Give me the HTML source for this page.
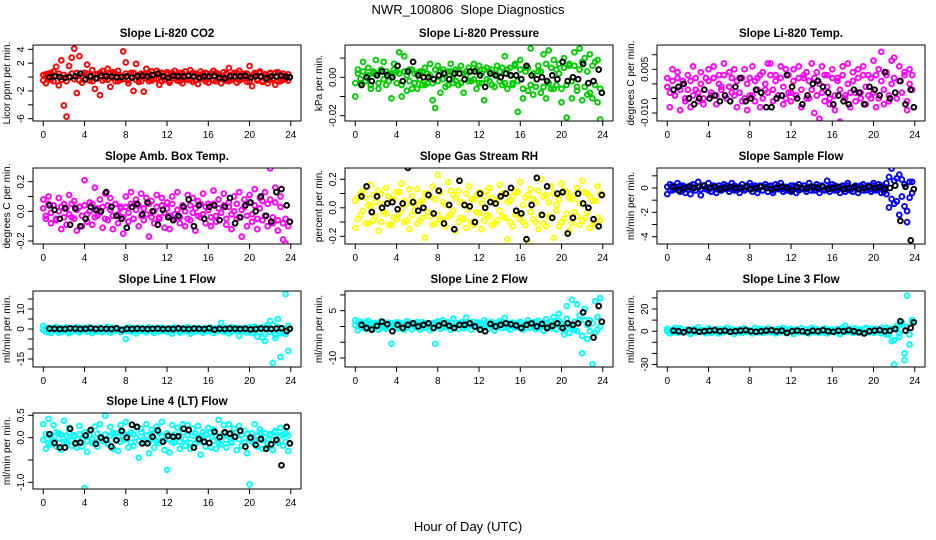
<!DOCTYPE html>
<html><head><meta charset="utf-8"><style>
html,body{margin:0;padding:0;background:#fff;}
svg{display:block;font-family:"Liberation Sans",sans-serif;}
</style></head><body>
<svg id="chart" width="936" height="540" viewBox="0 0 936 540" xmlns="http://www.w3.org/2000/svg">
<rect width="936" height="540" fill="#fff"/>
<text x="468" y="14" text-anchor="middle" font-size="13">NWR_100806&#160; Slope Diagnostics</text>
<text x="468" y="531" text-anchor="middle" font-size="13">Hour of Day (UTC)</text>
</svg>
<script>
const xTicks=[0,4,8,12,16,20,24];
const hoursC=[0,0.25,0.5,0.75,1,1.25,1.5,1.75,2,2.25,2.5,2.75,3,3.25,3.5,3.75,4,4.25,4.5,4.75,5,5.25,5.5,5.75,6,6.25,6.5,6.75,7,7.25,7.5,7.75,8,8.25,8.5,8.75,9,9.25,9.5,9.75,10,10.25,10.5,10.75,11,11.25,11.5,11.75,12,12.25,12.5,12.75,13,13.25,13.5,13.75,14,14.25,14.5,14.75,15,15.25,15.5,15.75,16,16.25,16.5,16.75,17,17.25,17.5,17.75,18,18.25,18.5,18.75,19,19.25,19.5,19.75,20,20.25,20.5,20.75,21,21.25,21.5,21.75,22,22.25,22.5,22.75,23,23.25,23.5,23.75];
const hoursK=[0.6,1.1,1.6,2.1,2.6,3.1,3.6,4.1,4.6,5.1,5.6,6.1,6.6,7.1,7.6,8.1,8.6,9.1,9.6,10.1,10.6,11.1,11.6,12.1,12.6,13.1,13.6,14.1,14.6,15.1,15.6,16.1,16.6,17.1,17.6,18.1,18.6,19.1,19.6,20.1,20.6,21.1,21.6,22.1,22.6,23.1,23.6,23.9];

const co2A=[0.3,-0.9,0.5,-0.4,0.8,1.5,-1.2,2.4,-4.1,-5.7,1.6,2.8,4.1,-2.3,3.0,-0.8,0.6,1.8,-0.5,1.0,-1.7,0.4,-2.6,0.9,-0.3,1.2,-1.4,0.7,-0.6,0.9,-0.4,3.7,2.1,-0.9,0.6,-2.0,1.9,-0.7,0.5,-2.1,1.2,-0.6,0.8,-0.3,0.9,-1.1,0.6,-0.4,0.7,-0.8,0.4,0.9,-0.5,0.6,-0.9,0.8,-0.4,1.0,-0.7,0.5,-1.0,0.8,-0.3,0.6,-0.8,0.5,0.9,-0.6,0.4,-0.9,0.7,-0.5,1.3,-0.4,0.6,-0.8,0.9,-0.3,0.5,-0.7,1.6,-1.3,0.6,-0.5,0.8,-0.7,0.4,-0.9,0.6,-0.4,-1.1,0.7,-0.6,0.5,-0.3,0.4];
const co2B=[-0.5,0.4,-0.2,0.6,-0.6,0.2,0.5,-0.4,0.3,-0.6,0.1,0.5,-0.3,0.6,-0.5,0.2,-0.4,0.5,0.1,-0.6,0.4,-0.2,0.6,-0.5,0.3,-0.4,0.6,-0.1,0.5,-0.6,0.2,-0.3,0.5,-0.5,0.1,0.6,-0.4,0.3,-0.6,0.4,-0.2,0.5,-0.5,0.2,-0.3,0.6,-0.6,0.1,0.4,-0.5,0.6,-0.2,0.3,-0.6,0.5,-0.1,0.2,-0.4,0.6,-0.5,0.3,-0.2,0.5,-0.6,0.1,0.4,-0.5,0.6,-0.3,0.2,-0.4,0.5,-0.6,0.3,-0.1,0.6,-0.5,0.4,-0.2,0.5,-0.6,0.2,0.4,-0.3,0.6,-0.5,0.1,-0.4,0.5,-0.2,0.6,-0.6,0.3,-0.4,0.2,-0.5];
const co2K=[0,0.1,0,-0.1,0,0.1,0.5,-0.3,0.1,-0.2,0.2,0.1,0.1,0,0,0.1,-0.1,0.1,0.2,0.1,0.3,0.5,0.1,-0.1,0.2,0.1,0.1,0.2,0.1,-0.1,0.1,0.1,0.2,-0.1,-0.2,0.1,0.1,0.1,0.2,-0.1,0.1,0.1,-0.2,0.1,0.1,0.2,0,0];

const presA=[-0.010,0.004,-0.003,0.008,-0.002,0.005,-0.006,0.002,0.009,-0.006,0.003,0.008,-0.004,0.002,-0.011,0.007,0.003,0.013,-0.010,0.011,-0.007,0.004,-0.006,0.002,-0.006,0.003,-0.004,0.005,-0.003,0.007,-0.012,-0.016,0.006,-0.008,0.004,-0.005,0.003,0.007,-0.003,0.004,-0.004,0.006,-0.008,0.003,0.005,-0.002,0.007,-0.006,0.006,-0.003,-0.012,0.005,-0.002,0.004,-0.005,0.006,0.003,-0.004,0.011,-0.006,0.005,-0.003,0.007,-0.018,0.009,-0.011,0.005,-0.007,0.015,-0.009,0.020,0.003,-0.008,0.012,-0.011,0.014,-0.006,0.009,-0.004,0.007,-0.013,0.010,-0.021,0.006,-0.011,0.013,-0.005,0.015,-0.012,0.010,-0.009,0.012,-0.011,0.008,-0.013,-0.022];
const presB=[-0.003,0.002,-0.001,0.003,-0.002,0.001,-0.004,0.003,0.002,-0.003,0.004,-0.001,0.003,-0.002,0.001,0.004,-0.003,0.002,-0.004,0.003,0.001,-0.002,0.004,-0.003,0.002,-0.001,0.003,-0.004,0.002,0.001,-0.003,0.004,-0.002,0.003,-0.001,0.002,-0.004,0.003,0.001,-0.002,0.004,-0.003,0.002,0.001,-0.002,0.003,-0.001,0.004,-0.003,0.002,0.004,-0.001,0.003,-0.004,0.002,0.001,-0.002,0.005,-0.003,0.004,0.001,-0.004,0.006,-0.002,0.004,-0.006,0.003,0.005,-0.004,0.002,-0.005,0.006,0.003,-0.005,0.007,-0.003,0.005,-0.006,0.004,0.002,-0.006,0.005,-0.004,0.007,-0.002,0.006,-0.007,0.004,0.008,-0.005,0.003,-0.008,0.006,-0.004,0.009,-0.006];
const presK=[-0.004,0.0,-0.002,0.001,0.003,0.001,0.000,0.006,-0.002,0.003,0.008,0.001,0.000,0.0,-0.001,0.001,0.002,-0.001,0.002,0.002,-0.001,0.003,0.003,0.001,-0.005,0.002,0.001,0.000,0.002,0.001,0.001,-0.001,0.006,0.001,-0.001,0.000,-0.002,0.001,-0.001,0.008,-0.002,0.000,-0.001,0.007,-0.003,-0.002,0.004,-0.008];

const ltempA=[0.002,-0.008,0.005,-0.004,0.004,-0.009,0.001,-0.006,0.003,-0.008,0.006,-0.002,-0.006,0.004,-0.007,0.002,0.005,-0.004,0.006,-0.007,0.003,-0.001,0.007,-0.005,0.004,-0.003,0.005,-0.008,0.002,-0.006,0.005,-0.009,-0.004,0.006,-0.006,0.002,-0.008,0.004,-0.002,0.007,0.007,-0.006,0.003,-0.004,0.006,-0.007,0.005,-0.003,-0.006,0.005,-0.004,0.006,-0.008,0.002,0.004,-0.005,0.007,-0.010,0.004,-0.012,0.006,-0.006,0.003,-0.007,0.005,-0.009,0.002,-0.013,0.006,-0.004,0.007,-0.008,0.004,-0.006,0.005,-0.003,0.006,-0.007,0.003,-0.005,0.008,-0.008,0.005,0.011,-0.007,0.004,-0.006,0.008,0.009,-0.015,0.006,-0.014,0.004,-0.009,0.005,0.003];
const ltempB=[-0.001,-0.003,0.001,-0.004,0.002,-0.002,0.000,-0.005,-0.002,0.001,-0.004,0.002,-0.003,0.000,-0.005,0.002,0.001,-0.003,0.002,-0.004,0.000,-0.002,0.003,-0.005,-0.001,0.002,-0.004,0.001,-0.003,0.002,-0.005,0.000,0.002,-0.004,0.001,-0.002,0.003,-0.005,0.000,-0.003,0.003,-0.002,0.001,-0.004,0.002,-0.001,-0.005,0.003,-0.003,0.001,-0.004,0.002,-0.002,0.003,-0.005,0.001,-0.002,0.002,-0.004,0.000,-0.003,0.003,-0.001,-0.005,0.002,-0.004,0.001,-0.002,0.003,-0.005,0.000,-0.003,0.001,-0.003,0.002,-0.005,0.003,-0.001,-0.004,0.002,-0.003,0.003,-0.005,0.001,-0.002,0.003,-0.004,0.000,0.002,-0.005,0.001,-0.003,0.003,-0.006,0.000,-0.002];
const ltempK=[-0.002,-0.001,0.000,-0.005,-0.007,-0.005,-0.002,-0.005,-0.004,-0.006,-0.004,-0.006,-0.001,0.002,-0.006,-0.005,-0.002,-0.003,-0.008,-0.008,-0.005,-0.004,0.003,-0.001,-0.005,-0.007,-0.004,0.000,0.001,-0.001,-0.003,-0.007,-0.004,-0.006,-0.007,-0.002,-0.003,-0.007,-0.001,-0.002,-0.004,0.004,-0.005,-0.003,0.001,-0.007,-0.002,-0.008];

const boxA=[0.08,-0.05,0.10,-0.08,0.04,-0.06,0.09,-0.12,0.05,-0.09,0.11,-0.04,0.07,-0.13,0.03,-0.10,0.21,-0.07,0.06,-0.09,0.16,-0.03,0.08,-0.11,0.12,-0.06,0.09,-0.12,0.05,-0.08,0.03,-0.15,0.10,-0.07,0.13,-0.05,0.08,-0.10,0.12,-0.06,0.09,-0.17,0.07,-0.08,0.11,-0.04,0.09,-0.11,0.06,-0.12,0.10,-0.05,0.13,-0.08,0.04,-0.10,0.11,-0.06,0.09,-0.13,0.07,-0.04,0.12,-0.08,0.05,-0.10,0.14,-0.07,0.08,-0.25,0.12,-0.09,0.06,-0.12,0.10,-0.05,0.13,-0.17,0.08,-0.10,0.11,-0.07,0.15,-0.12,0.09,-0.06,0.13,-0.10,0.29,-0.08,0.16,-0.13,0.10,-0.19,-0.22,-0.26];
const boxB=[0.02,-0.03,0.05,-0.01,0.04,-0.05,0.00,0.03,-0.04,0.02,-0.02,0.05,-0.05,0.01,0.03,-0.03,0.04,-0.02,0.00,0.05,-0.04,0.02,-0.01,0.03,-0.05,0.04,0.01,-0.03,0.05,-0.02,0.02,-0.04,0.03,-0.01,0.05,-0.05,0.01,0.04,-0.03,0.02,-0.02,0.05,-0.04,0.00,0.03,-0.05,0.04,-0.01,0.02,-0.03,0.05,-0.02,0.01,-0.04,0.03,0.00,-0.05,0.04,-0.01,0.02,-0.03,0.05,-0.02,0.03,0.01,-0.04,0.05,-0.03,0.02,-0.01,0.04,-0.05,0.03,-0.02,0.00,0.05,-0.04,0.01,0.03,-0.03,0.06,-0.02,0.04,-0.05,0.02,0.07,-0.03,0.05,0.08,-0.04,0.06,-0.06,0.03,-0.08,-0.05,-0.10];
const boxK=[0.04,0.01,-0.05,0.02,-0.09,0.02,-0.10,-0.05,0.03,0.01,0.00,0.13,0.03,-0.03,-0.05,-0.11,0.03,0.05,-0.02,0.06,0.00,-0.09,0.01,-0.04,-0.06,-0.03,0.03,0.08,-0.10,0.04,-0.05,0.03,0.04,-0.06,0.03,0.09,-0.08,-0.04,0.04,0.06,0.00,0.10,-0.03,-0.07,0.13,0.15,0.04,-0.07];

const rhA=[-0.14,0.07,-0.05,0.12,-0.11,0.02,0.16,-0.09,0.04,-0.16,0.10,-0.03,0.14,-0.12,0.06,-0.07,0.11,-0.04,0.17,-0.10,0.03,-0.15,0.08,-0.02,0.13,-0.09,0.05,-0.21,0.10,-0.06,0.15,-0.11,0.23,-0.08,0.04,-0.13,0.18,-0.05,0.09,-0.16,0.12,-0.07,0.02,-0.14,0.15,-0.10,0.06,-0.03,0.11,-0.15,0.08,-0.05,0.14,-0.12,0.03,-0.09,0.16,-0.06,0.10,-0.22,0.05,-0.13,0.12,-0.04,0.18,-0.10,0.07,-0.24,0.13,-0.08,0.04,-0.15,0.20,-0.11,0.09,-0.06,0.15,-0.21,0.02,-0.13,0.17,-0.08,0.11,-0.16,0.06,-0.03,0.14,-0.12,0.19,-0.07,0.10,-0.14,0.05,-0.11,0.15,-0.09];
const rhB=[0.05,-0.08,0.10,-0.02,0.07,-0.11,0.01,0.09,-0.06,0.12,-0.10,0.03,-0.04,0.08,-0.12,0.06,-0.08,0.11,-0.01,0.05,-0.09,0.13,-0.05,0.02,-0.11,0.04,-0.07,0.10,-0.03,0.08,-0.12,0.06,-0.05,0.11,-0.09,0.02,-0.06,0.12,-0.02,0.07,-0.10,0.04,-0.08,0.10,-0.01,0.06,-0.12,0.09,-0.04,0.03,-0.09,0.12,-0.06,0.07,-0.11,0.05,-0.02,0.10,-0.07,0.04,-0.10,0.08,-0.05,0.11,-0.08,0.02,-0.12,0.09,-0.03,0.06,-0.10,0.12,-0.05,0.08,-0.13,0.04,-0.07,0.10,-0.02,0.06,-0.10,0.12,-0.04,0.07,-0.11,0.09,-0.06,0.03,-0.09,0.11,-0.03,0.08,-0.12,0.05,-0.07,0.10];
const rhK=[0.08,0.15,-0.03,0.08,0.00,0.03,0.04,-0.01,0.03,0.28,0.04,-0.02,0.00,0.09,-0.04,0.12,-0.11,0.02,-0.15,0.19,0.02,0.01,-0.10,0.10,0.00,0.04,0.03,0.08,0.10,0.14,-0.02,-0.04,-0.22,0.02,0.21,-0.05,0.15,-0.07,0.10,0.11,-0.18,-0.07,0.10,0.03,0.00,-0.08,-0.13,0.09];

const sampA=[-0.5,0.3,-0.2,0.1,0.4,-0.3,0.2,-0.4,0.1,-0.5,0.3,-0.2,0.5,-0.6,0.2,-0.1,0.4,-0.3,0.1,-0.4,0.2,-0.2,0.3,-0.1,-0.3,0.4,-0.2,0.1,-0.4,0.3,-0.1,0.2,0.4,-0.3,0.2,-0.4,0.1,-0.2,0.3,-0.3,0.2,-0.4,0.3,-0.1,0.4,-0.3,0.1,-0.2,-0.3,0.2,-0.4,0.3,-0.1,0.2,-0.3,0.4,0.1,-0.2,0.3,-0.4,0.2,-0.1,0.6,-0.3,0.3,-0.2,0.1,-0.4,0.2,-0.3,0.4,-0.1,-0.3,0.2,-0.4,0.1,0.3,-0.2,0.2,-0.3,0.4,-0.2,0.3,-0.4,0.1,-0.5,-1.6,1.6,-1.3,0.8,-2.2,0.7,-1.5,-2.8,-0.8,0.5];
const sampB=[0.1,-0.2,0.2,-0.1,0.0,0.2,-0.2,0.1,-0.1,0.2,0.0,-0.2,0.1,-0.1,0.2,0.0,-0.2,0.1,0.2,-0.1,0.0,-0.2,0.1,0.2,0.0,-0.1,0.2,-0.2,0.1,0.0,-0.2,0.1,-0.1,0.2,0.0,-0.1,0.2,-0.2,0.1,0.0,0.1,-0.2,0.0,0.2,-0.1,0.1,-0.2,0.0,0.2,-0.1,0.1,-0.2,0.0,0.2,-0.1,0.1,-0.2,0.0,0.1,-0.1,0.2,-0.2,0.0,0.1,-0.1,0.2,-0.2,0.0,0.1,-0.1,0.2,-0.2,0.0,0.1,-0.1,0.2,-0.2,0.0,0.1,-0.1,0.2,-0.1,0.0,0.2,-0.3,0.4,0.9,-0.9,0.6,-1.1,1.1,-0.7,0.3,-1.9,0.5,-0.4];
const sampK=[0.1,-0.2,0.0,0.1,0.0,0.1,0.2,0.0,0.1,-0.1,0.0,0.1,0.0,0.0,0.1,-0.1,0.0,0.1,0.0,-0.1,0.0,0.1,0.0,-0.2,0.1,0.0,0.0,0.1,0.0,0.1,-0.1,0.0,0.1,-0.1,0.0,0.1,-0.1,0.0,0.1,0.0,0.1,-0.1,0.0,0.2,-2.7,0.1,-4.3,-0.1];

const l1A=[1.5,-1.5,0.5,-2.0,-0.5,1.0,-1.8,0.3,-1.2,0.8,-2.1,0.4,-1.0,0.9,-1.7,-0.2,0.6,-1.4,1.0,-2.0,0.2,-1.1,0.7,-1.6,-0.4,1.1,-1.9,0.5,-0.8,0.3,-1.5,-0.6,-5.0,0.9,-1.3,0.4,-2.2,0.6,-1.0,0.2,-1.6,0.8,-0.5,-2.0,0.5,-1.2,0.7,-0.9,-1.4,0.3,-2.3,0.8,-0.6,-1.8,0.4,-1.1,0.9,-2.4,0.2,-1.3,0.6,-0.7,-1.9,0.5,-1.0,0.7,-2.0,0.3,-0.8,3.0,-1.5,0.4,-2.2,1.0,-0.9,0.5,-3.5,-1.2,0.6,-1.7,0.8,-2.0,1.2,-3.8,0.4,-4.5,-6.0,2.0,4.0,-17.0,-4.5,5.0,-14.0,-2.0,17.5,-11.0];
const l1B=[-0.5,0.2,-1.0,-0.3,0.4,-0.8,0.0,-1.2,0.3,-0.6,-1.0,0.1,-0.4,-1.1,0.5,-0.7,-0.2,0.4,-0.9,-0.5,0.2,-1.2,0.3,-0.1,-0.8,0.1,-0.4,-1.0,0.5,-0.6,0.0,-0.9,0.2,-1.1,-0.3,0.4,-0.7,-0.1,0.3,-1.0,0.0,-0.5,0.2,-0.9,-0.2,0.4,-1.1,0.1,-0.6,0.3,-0.8,-0.1,0.5,-1.0,0.2,-0.4,-1.2,0.1,-0.6,0.4,-0.9,0.0,-0.3,-1.1,0.3,-0.7,0.1,-1.0,0.5,-0.4,-0.8,0.2,-0.1,-1.2,0.4,-0.6,0.0,-0.9,0.3,-0.5,-1.0,0.2,-0.7,0.5,-1.5,1.0,-2.5,0.5,-1.5,2.0,-3.0,1.0,-2.0,0.0,-2.5,1.5];
const l1K=[0.2,0.1,0.0,0.0,0.3,0.2,0.0,0.1,0.4,0.0,0.2,0.1,0.0,0.3,-0.5,0.1,0.0,0.2,0.1,0.0,0.1,0.2,0.0,0.1,0.0,0.3,0.1,0.0,0.2,0.1,0.0,0.4,-0.3,0.1,0.0,0.2,0.1,0.0,0.1,-0.2,0.0,0.2,0.1,0.0,0.2,0.4,-1.0,0.1];

const l2A=[2.0,-1.2,1.5,0.3,-0.8,1.8,-0.5,1.0,0.4,-1.0,1.6,0.0,-0.7,1.2,-5.5,0.8,1.3,-0.6,0.9,-1.1,1.7,0.2,-0.9,1.1,0.5,-1.0,1.4,-0.4,0.7,-1.2,1.0,-5.5,1.6,-0.7,2.0,-0.3,0.9,-1.1,2.5,0.1,-0.8,1.3,-0.5,2.8,0.4,-1.0,1.5,-0.2,1.1,-0.9,2.0,0.3,-0.6,1.4,-1.3,0.8,1.7,-0.5,2.7,0.2,-1.0,1.2,-0.3,0.9,1.5,-1.1,0.6,2.0,-0.4,1.3,-0.9,1.8,0.3,-1.3,2.3,0.7,-0.5,3.0,-1.0,4.0,1.0,-2.5,6.5,-2.0,8.5,-1.0,7.0,3.5,-8.5,5.5,-4.0,2.0,-12.0,8.0,-1.0,9.0];
const l2B=[0.5,1.2,-0.3,0.8,1.4,0.0,0.9,-0.5,1.1,0.2,-0.4,1.3,0.6,-0.2,1.0,0.3,-0.5,1.2,0.4,0.8,-0.3,1.1,0.5,-0.1,1.4,0.1,-0.4,1.0,0.6,0.2,-0.6,1.2,0.3,1.0,-0.2,0.7,1.3,0.0,-0.5,1.1,0.6,0.2,1.4,-0.3,0.9,0.4,-0.1,1.2,0.2,0.8,-0.4,1.3,0.5,0.0,1.0,-0.3,0.7,1.4,0.1,-0.5,1.1,0.4,0.9,-0.2,1.2,0.3,-0.6,1.0,0.6,0.1,1.4,-0.4,0.8,0.2,1.1,-0.3,1.5,0.4,-0.8,1.8,0.5,-1.2,2.5,0.3,-0.5,1.5,-1.5,2.0,-3.0,2.0,0.5,-1.5,1.0,-2.0,3.0,0.0];
const l2K=[0.5,-0.5,-1.0,0.2,1.5,0.7,-1.5,0.5,-0.5,0.5,1.0,0.0,0.5,1.0,-0.5,0.3,1.0,0.2,-0.5,0.5,0.5,1.0,0.0,-1.0,-1.5,0.8,0.0,0.5,1.0,0.7,0.3,-0.5,0.5,1.0,0.0,0.8,-0.5,0.2,1.0,-0.5,1.0,0.5,1.0,4.5,1.0,-3.5,6.5,1.5];

const l3A=[2.0,-2.0,1.0,3.0,-1.5,2.5,-1.0,0.5,1.5,-2.5,2.0,-1.0,3.5,-0.5,1.0,-2.0,2.5,-1.5,0.5,2.0,-2.0,1.5,-1.0,3.0,-0.5,2.0,-2.5,1.0,1.5,-1.5,2.5,-0.5,1.0,-2.0,3.0,-1.0,2.0,-1.5,0.5,2.5,-1.0,1.5,-2.0,2.0,-0.5,3.0,-1.5,1.0,2.0,-2.5,1.5,-1.0,2.5,-0.5,1.0,-2.0,3.0,-1.0,2.0,-1.5,0.5,2.5,-2.0,1.0,1.5,-1.0,2.0,-2.5,3.0,5.0,-0.5,2.0,-1.5,2.5,-1.0,1.5,-2.0,3.0,-1.0,2.0,-1.5,2.0,-0.5,3.0,-1.0,-3.0,2.0,-9.0,-30.0,3.0,-5.0,8.0,-26.0,32.0,-12.0,10.0];
const l3B=[0.0,1.0,-1.0,0.5,1.5,-0.5,0.0,1.0,-1.0,0.5,0.0,1.5,-0.5,1.0,0.0,-1.0,0.5,1.0,-0.5,0.0,1.5,-1.0,0.5,0.0,1.0,-0.5,0.5,0.0,-1.0,1.5,0.0,0.5,-0.5,1.0,0.0,-1.0,0.5,1.5,0.0,-0.5,1.0,0.0,0.5,-1.0,1.0,0.0,1.5,-0.5,0.0,1.0,-0.5,0.5,0.0,-1.0,1.5,0.5,-0.5,0.0,1.0,0.5,-1.0,0.0,1.5,-0.5,0.5,0.0,-1.0,1.0,0.5,-0.5,0.0,1.5,-1.0,0.5,1.0,0.0,-0.5,2.0,0.0,1.0,-1.0,2.0,0.5,-2.0,1.0,3.0,-3.0,2.0,-8.0,5.0,-2.0,6.0,-20.0,4.0,-3.0,9.0];
const l3K=[0.5,0.0,-1.0,1.0,0.5,-0.5,0.0,0.5,1.0,0.0,0.5,-0.5,0.0,0.5,1.0,0.0,-0.5,0.0,0.5,1.0,0.0,0.5,-1.5,0.0,0.5,0.0,-1.0,0.5,0.0,1.0,0.0,-0.5,0.5,0.0,1.0,0.0,-1.0,-2.0,0.0,0.5,1.0,0.0,0.5,2.0,9.0,0.5,3.0,8.0];

const l4A=[0.30,-0.25,0.42,-0.15,0.28,-0.20,0.10,-0.27,0.38,-0.10,0.22,-0.18,0.05,-0.22,0.26,-0.20,-1.13,-0.32,0.15,-0.12,0.25,-0.20,0.30,-0.08,0.49,-0.15,0.24,-0.25,0.10,-0.30,0.28,-0.05,0.35,-0.22,0.12,-0.18,0.24,-0.45,0.20,-0.10,0.30,-0.35,0.18,-0.22,0.25,-0.12,0.35,-0.28,-0.72,-0.33,0.28,-0.10,0.22,-0.25,0.30,-0.18,0.28,-0.25,0.20,-0.14,0.26,-0.38,0.12,-0.20,0.22,-0.22,0.18,-0.25,0.40,-0.15,0.28,-0.22,0.30,-0.12,0.20,-0.28,0.26,-0.18,0.15,-0.35,-1.05,-0.10,0.30,-0.20,0.18,-0.25,0.10,-0.20,0.05,-0.28,0.15,-0.12,0.22,-0.18,0.10,-0.30];
const l4B=[-0.05,0.08,-0.12,0.03,-0.08,0.12,-0.02,0.06,-0.10,0.04,0.10,-0.06,0.02,-0.12,0.08,-0.04,0.12,-0.08,0.05,-0.02,-0.10,0.09,0.01,-0.06,0.07,-0.12,0.04,0.10,-0.05,0.02,-0.09,0.11,-0.03,0.06,-0.11,0.08,0.00,-0.07,0.12,-0.04,0.05,-0.10,0.09,-0.02,-0.08,0.11,0.03,-0.06,0.10,-0.04,-0.11,0.07,0.01,-0.09,0.12,-0.03,0.06,-0.12,0.04,0.09,-0.06,0.02,-0.10,0.08,-0.02,0.11,-0.07,0.05,-0.12,0.03,0.10,-0.05,0.07,-0.09,0.01,0.12,-0.04,0.06,-0.11,0.09,-0.03,0.10,-0.08,0.04,0.11,-0.06,0.02,-0.12,0.08,-0.05,0.12,-0.10,0.03,0.07,-0.09,0.05];
const l4K=[0.08,-0.12,-0.22,-0.22,0.20,-0.13,-0.11,0.05,0.17,-0.14,0.00,-0.05,-0.20,-0.06,0.15,0.00,0.29,0.24,-0.13,-0.13,0.02,0.16,-0.09,0.04,0.02,0.03,0.20,0.17,-0.22,-0.03,-0.09,-0.12,0.13,0.01,0.12,0.09,0.02,0.15,-0.20,0.00,-0.16,-0.03,-0.25,-0.15,-0.05,-0.62,0.24,-0.13];

const NS="http://www.w3.org/2000/svg";
const svg=document.getElementById('chart');
function mk(tag,attrs,parent,txt){const e=document.createElementNS(NS,tag);for(const k in attrs)e.setAttribute(k,attrs[k]);if(txt!==undefined)e.textContent=txt;(parent||svg).appendChild(e);return e;}
const rows=[[45,121],[168,244],[291,367],[413,489]];
const panels=[
 {name:'co2',title:'Slope Li-820 CO2',ylab:'Licor ppm per min.',col:'#ff0000',r:0,c:0,A:co2A,B:co2B,K:co2K,ticks:[4,2,0,-2,-4,-6],labs:['4','2','','-2','','-6'],m:[4,49.3,-6,118.7]},
 {name:'pressure',title:'Slope Li-820 Pressure',ylab:'kPa per min.',col:'#00cd00',r:0,c:1,A:presA,B:presB,K:presK,ticks:[0.01,0,-0.01,-0.02],labs:['','0.00','','-0.02'],m:[0,77.3,-0.02,115.7]},
 {name:'licor-temp',title:'Slope Li-820 Temp.',ylab:'degrees C per min.',col:'#ff00ff',r:0,c:2,A:ltempA,B:ltempB,K:ltempK,ticks:[0.01,0.005,0,-0.005,-0.01],labs:['','0.005','','','-0.010'],m:[0.005,69.3,-0.01,113]},
 {name:'box-temp',title:'Slope Amb. Box Temp.',ylab:'degrees C per min.',col:'#ff00ff',r:1,c:0,A:boxA,B:boxB,K:boxK,ticks:[0.2,0.1,0,-0.1,-0.2],labs:['0.2','','0.0','','-0.2'],m:[0.2,181.7,-0.2,241]},
 {name:'gas-rh',title:'Slope Gas Stream RH',ylab:'percent per min.',col:'#ffff00',r:1,c:1,A:rhA,B:rhB,K:rhK,ticks:[0.2,0.1,0,-0.1,-0.2],labs:['0.2','','0.0','','-0.2'],m:[0.2,179.3,-0.2,236.3]},
 {name:'sample-flow',title:'Slope Sample Flow',ylab:'ml/min per min.',col:'#0000ff',r:1,c:2,A:sampA,B:sampB,K:sampK,ticks:[1,0,-1,-2,-3,-4],labs:['','0','','-2','','-4'],m:[0,188,-4,236.7]},
 {name:'line1-flow',title:'Slope Line 1 Flow',ylab:'ml/min per min.',col:'#00ffff',r:2,c:0,A:l1A,B:l1B,K:l1K,ticks:[15,10,5,0,-5,-10,-15],labs:['','10','','0','','','-15'],m:[10,309,-15,359]},
 {name:'line2-flow',title:'Slope Line 2 Flow',ylab:'ml/min per min.',col:'#00ffff',r:2,c:1,A:l2A,B:l2B,K:l2K,ticks:[10,5,0,-5,-10],labs:['','5','','','-10'],m:[5,310.7,-10,358]},
 {name:'line3-flow',title:'Slope Line 3 Flow',ylab:'ml/min per min.',col:'#00ffff',r:2,c:2,A:l3A,B:l3B,K:l3K,ticks:[30,20,10,0,-10,-20,-30],labs:['','20','','0','','','-30'],m:[20,309,-30,364.5]},
 {name:'line4-flow',title:'Slope Line 4 (LT) Flow',ylab:'ml/min per min.',col:'#00ffff',r:3,c:0,A:l4A,B:l4B,K:l4K,ticks:[0.5,0,-0.5,-1.0],labs:['0.5','0.0','','-1.0'],m:[0.5,415.3,-1.0,482.3]}
];
panels.forEach(p=>{
 const x0=43.3+312*p.c, xs=247.5/24;
 const L=33+312*p.c, R=301+312*p.c, T=rows[p.r][0], B=rows[p.r][1];
 const X=h=>x0+h*xs;
 const Y=v=>p.m[1]+(v-p.m[0])*(p.m[3]-p.m[1])/(p.m[2]-p.m[0]);
 const g=mk('g',{});
 
 
 const t=mk('text',{x:(L+R)/2,y:T-8,'text-anchor':'middle','font-size':'11.5','font-weight':'bold'},g,p.title);
 
 
 const clip=mk('clipPath',{id:'cl'+p.name},g);mk('rect',{x:L,y:T,width:R-L,height:B-T},clip);
 const pts=mk('g',{'clip-path':'url(#cl'+p.name+')',fill:'none','stroke-width':'1.9'},g);
 
 
 [[p.A,hoursC,p.col],[p.B,hoursC,p.col],[p.K,hoursK,'#000']].forEach(([vals,hrs,col])=>{
  const n=Math.min(vals.length,hrs.length);
  for(let i=0;i<n;i++){
   const c=mk('circle',{cx:X(hrs[i]).toFixed(1),cy:Y(vals[i]).toFixed(1),r:2.4,stroke:col},pts);
   
   
  }
 });
 const fr=mk('rect',{x:L,y:T,width:R-L,height:B-T,fill:'none',stroke:'#000','stroke-width':'1'},g);
 
 
 const xa=mk('g',{},g);
 
 
 xTicks.forEach(h=>{mk('line',{x1:X(h),x2:X(h),y1:B,y2:B+5,stroke:'#000'},xa);mk('text',{x:X(h),y:B+17,'text-anchor':'middle','font-size':'10'},xa,String(h));});
 const ya=mk('g',{},g);
 
 
 p.ticks.forEach((v,i)=>{const y=Y(v);if(y<T-1||y>B+1)return;mk('line',{x1:L-5,x2:L,y1:y,y2:y,stroke:'#000'},ya);
  if(p.labs[i])mk('text',{x:0,y:0,transform:`translate(${L-9},${y}) rotate(-90)`,'text-anchor':'middle','font-size':'10'},ya,p.labs[i]);});
 const yl=mk('text',{x:0,y:0,transform:`translate(${L-23},${(T+B)/2}) rotate(-90)`,'text-anchor':'middle','font-size':'10'},g,p.ylab);
 
 
});
</script>
</body></html>
